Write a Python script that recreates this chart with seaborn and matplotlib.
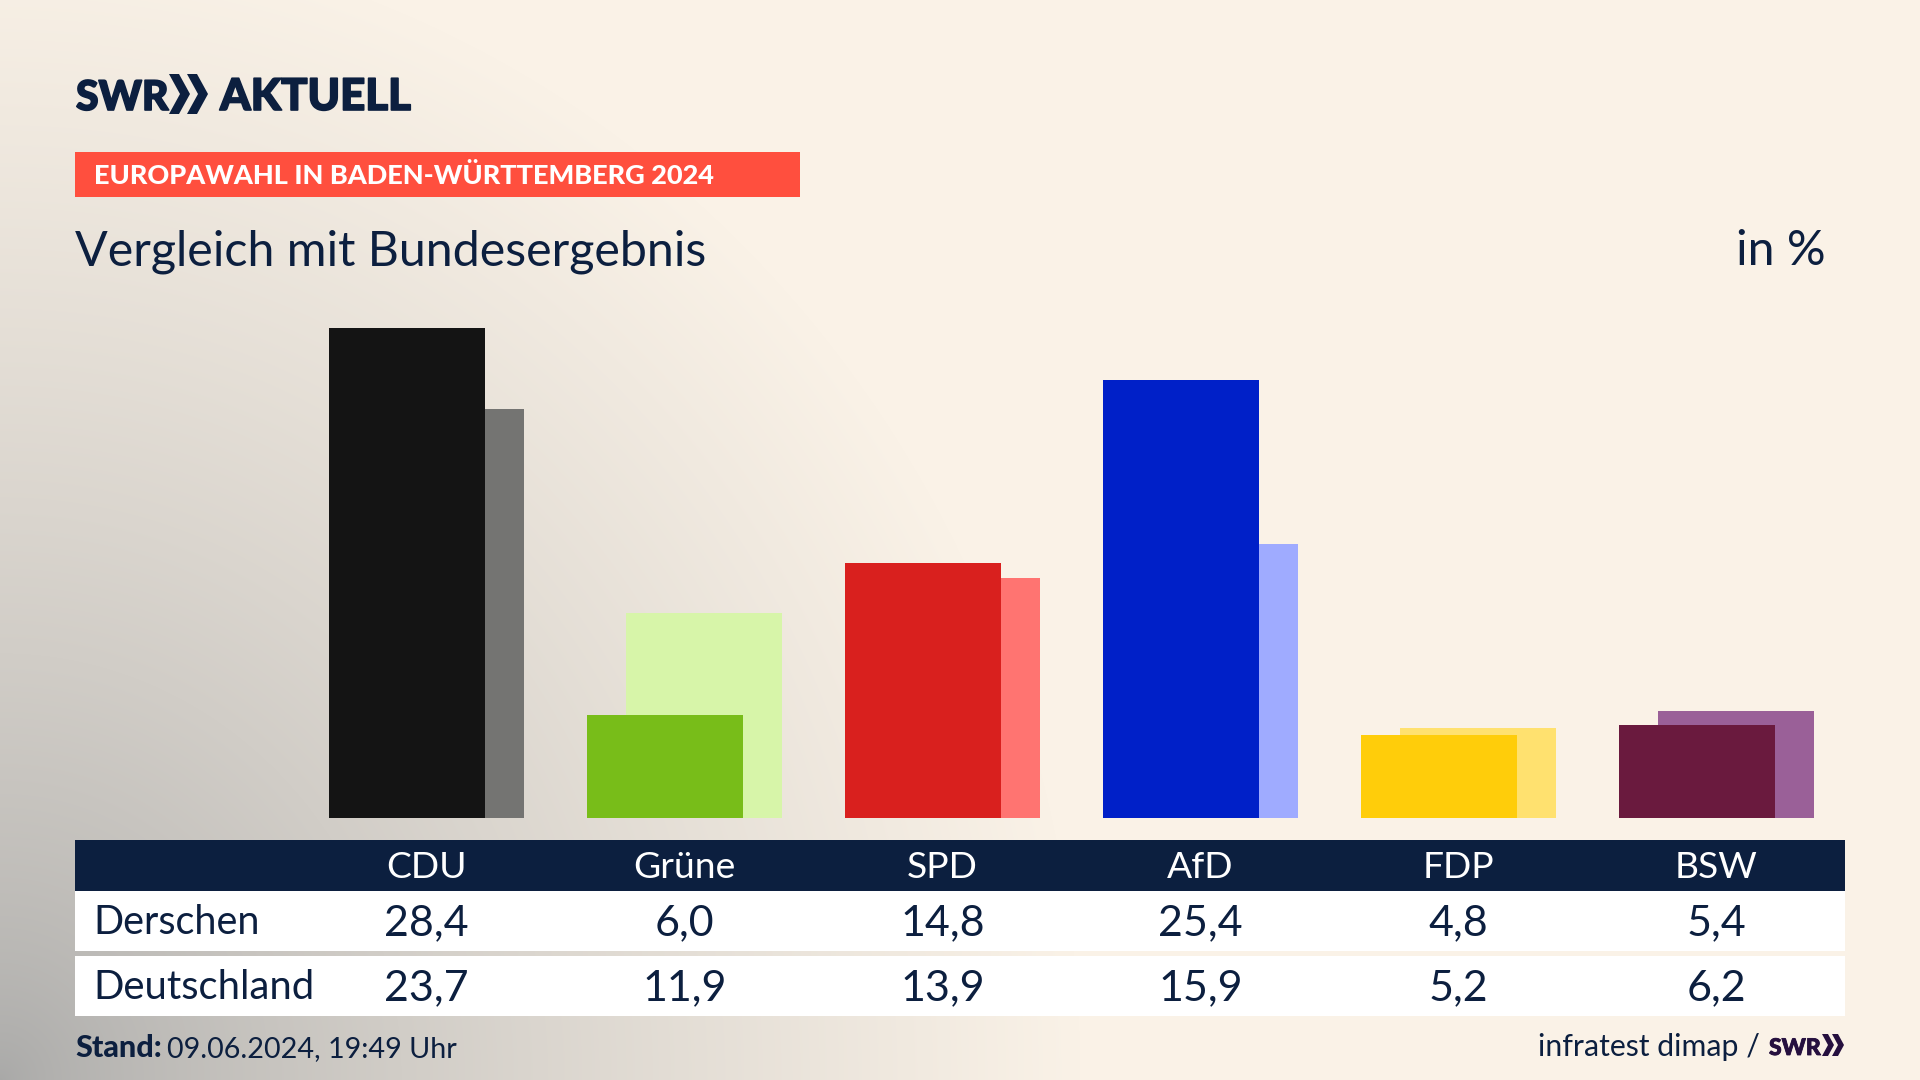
import numpy as np
import pandas as pd
import matplotlib
matplotlib.use("Agg")
import matplotlib.pyplot as plt
import matplotlib.patheffects as pe
from matplotlib.patches import Polygon, Rectangle
import seaborn as sns

# ---------- data ----------
parties = ["CDU", "Grüne", "SPD", "AfD", "FDP", "BSW"]
derschen = [28.4, 6.0, 14.8, 25.4, 4.8, 5.4]
deutschland = [23.7, 11.9, 13.9, 15.9, 5.2, 6.2]
front_colors = ["#141414", "#78bd19", "#d9201e", "#0020c8", "#ffcd0a", "#6a1a3e"]
back_colors = ["#747472", "#d7f5a9", "#ff7471", "#9fabff", "#ffe16f", "#9a6098"]

W, H = 1920, 1080
NAVY = "#0c1f3f"
PURPLE = "#26103f"
BEIGE = np.array([250, 242, 231]) / 255
GREY = np.array([168, 168, 167]) / 255
FONT = "Lato"

sns.set_theme(style="white")
plt.rcParams["font.family"] = [FONT, "DejaVu Sans"]

df = pd.DataFrame({"party": parties, "derschen": derschen, "deutschland": deutschland})

fig = plt.figure(figsize=(W / 100, H / 100), dpi=100)


def px_axes(left, top, right, bottom):
    return fig.add_axes([left / W, 1 - bottom / H, (right - left) / W, (bottom - top) / H])


# background: grey glow from the lower left corner
bg = px_axes(0, 0, W, H)
yy, xx = np.mgrid[0:H, 0:W]
t = np.clip(np.sqrt((xx / 1080) ** 2 + ((H - yy) / 1150) ** 2), 0, 1) ** 0.7
img = GREY[None, None, :] * (1 - t[..., None]) + BEIGE[None, None, :] * t[..., None]
bg.imshow(img, extent=(0, W, H, 0), aspect="auto")
bg.set_xlim(0, W)
bg.set_ylim(H, 0)
bg.axis("off")


# bars: one category axes per series, the back one shifted to the right
def bar_layer(col, colors, left):
    ax = px_axes(left, 300.5, left + 1548, 818)
    ax.patch.set_alpha(0)
    sns.barplot(data=df, x="party", y=col, hue="party", palette=colors, order=parties,
                hue_order=parties, dodge=False, legend=False, saturation=1, width=0.605,
                linewidth=0, ax=ax)
    ax.set_xlim(-0.5, 5.5)
    ax.set_ylim(0, 30)
    ax.axis("off")
    return ax


bar_layer("deutschland", back_colors, 317)
bar_layer("derschen", front_colors, 278)

# everything around the chart in pixel coordinates
ov = px_axes(0, 0, W, H)
ov.set_xlim(0, W)
ov.set_ylim(H, 0)
ov.axis("off")
ov.patch.set_alpha(0)


def chevron(x, y0, y1, w, t_w, color):
    mid = (y0 + y1) / 2
    ov.add_patch(Polygon([(x, y0), (x + t_w, y0), (x + t_w + w, mid), (x + t_w, y1), (x, y1), (x + w, mid)],
                         closed=True, fc=color, ec="none"))


def heavy(txt, width, color):
    txt.set_path_effects([pe.withStroke(linewidth=width, foreground=color)])


# logo
heavy(ov.text(76, 110, "SWR", fontsize=29.5, fontweight="black", color=NAVY,
              va="baseline", ha="left"), 1.2, NAVY)
chevron(169, 74, 114, 11, 10, NAVY)
chevron(187, 74, 114, 11, 10, NAVY)
heavy(ov.text(220, 110, "AKTUELL", fontsize=31.5, fontweight="black", color=NAVY,
              va="baseline", ha="left"), 1.2, NAVY)

# red tag
ov.add_patch(Rectangle((75, 152), 725, 45, fc="#ff4f3e", ec="none"))
ov.text(94, 184, "EUROPAWAHL IN BADEN-WÜRTTEMBERG 2024", fontsize=19.5, fontweight="black",
        color="white", va="baseline", ha="left")

ov.text(75, 265, "Vergleich mit Bundesergebnis", fontsize=34.8, color=NAVY, va="baseline", ha="left")
ov.text(1826, 265, "in %", fontsize=34.8, color=NAVY, va="baseline", ha="right")

# table
ov.add_patch(Rectangle((75, 840), 1770, 51, fc=NAVY, ec="none"))
ov.add_patch(Rectangle((75, 891), 1770, 60, fc="white", ec="none"))
ov.add_patch(Rectangle((75, 956), 1770, 60, fc="white", ec="none"))

col_x = [426.5 + 258 * i for i in range(len(parties))]
for x, name, a, b in zip(col_x, parties, derschen, deutschland):
    ov.text(x, 878, name, fontsize=26.8, color="white", ha="center", va="baseline")
    ov.text(x, 935, f"{a:.1f}".replace(".", ","), fontsize=31, color=NAVY, ha="center", va="baseline")
    ov.text(x, 1000, f"{b:.1f}".replace(".", ","), fontsize=31, color=NAVY, ha="center", va="baseline")

ov.text(93, 934, "Derschen", fontsize=28.5, color=NAVY, ha="left", va="baseline")
ov.text(93, 999, "Deutschland", fontsize=28.8, color=NAVY, ha="left", va="baseline")

# footer
ov.text(75, 1057, "Stand:", fontsize=22, fontweight="black", color=NAVY, ha="left", va="baseline")
ov.text(167, 1057, "09.06.2024, 19:49 Uhr", fontsize=20.7, color=NAVY, ha="left", va="baseline")
ov.text(1760, 1056, "infratest dimap /", fontsize=21.8, color=NAVY, ha="right", va="baseline")
heavy(ov.text(1769, 1055, "SWR", fontsize=16.5, fontweight="black", color=PURPLE,
              ha="left", va="baseline"), 0.6, PURPLE)
chevron(1822, 1034, 1056, 6, 6, PURPLE)
chevron(1832, 1034, 1056, 6, 6, PURPLE)

fig.savefig("out.png", dpi=100)
